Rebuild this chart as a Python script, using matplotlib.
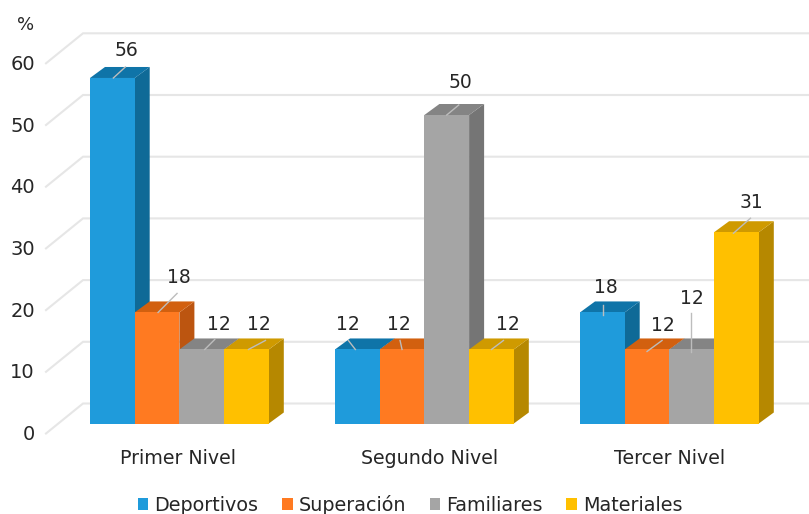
# plot.py - 3D style grouped bars drawn by hand on a 2D axes

import matplotlib
matplotlib.use("Agg")
import matplotlib.pyplot as plt
from matplotlib.patches import Patch, Polygon

categories = ["Primer Nivel", "Segundo Nivel", "Tercer Nivel"]
series_names = ["Deportivos", "Superación", "Familiares", "Materiales"]
deportivos = [56, 12, 18]
superacion = [18, 12, 12]
familiares = [12, 50, 12]
materiales = [12, 12, 31]
y_ticks = [0, 10, 20, 30, 40, 50, 60]

series_values = [deportivos, superacion, familiares, materiales]
front_colors = ["#1F9BDB", "#FF7A21", "#A5A5A5", "#FFC000"]
top_colors = ["#0F74A8", "#D2600F", "#848484", "#CF9A00"]
side_colors = ["#0F6A97", "#BC5510", "#757575", "#B68800"]

# scale of the axes, in pixels per unit
PX_X = 245.0
PX_Y = 6.17
BAR_W = 44.7 / PX_X
DEPTH_X = 15 / PX_X
DEPTH_Y = 11 / PX_Y
WALL_Y = 20 / PX_Y

# label offset from the front top centre of each bar, in pixels
# rows are series, columns are categories
label_offsets = [
    [(14, 27), (-9, 24.5), (4, 25)],
    [(22, 35), (-3, 24.5), (16, 23.5)],
    [(17, 25), (14, 33), (0, 51)],
    [(12, 25), (16, 24.5), (15, 30)],
]
leader_starts = [
    [(1, 0), (-2, 0), (1, -3)],
    [(1, 0), (0, 0), (0, -2)],
    [(3, 0), (0, 0), (-1, -3)],
    [(2, 0), (0, 0), (-3, -1)],
]
leader_ends = [
    [(13, 11), (-9, 9), (1, 7)],
    [(20, 19), (-2, 9), (15, 9)],
    [(13, 10), (12, 10), (-1, 36)],
    [(19, 9), (12, 9), (14, 14)],
]
category_shift = [-1, 5, 0]

fig = plt.figure(figsize=(8.09, 5.14), dpi=100, facecolor="white")
ax = fig.add_axes([0, 0, 1, 1])
ax.set_xlim(-179.4 / PX_X, (809 - 179.4) / PX_X)
ax.set_ylim(-(514 - 423.5) / PX_Y, 423.5 / PX_Y)
ax.axis("off")

# wall gridlines with the short diagonal on the left
wall_left = (83 - 179.4) / PX_X
wall_right = ax.get_xlim()[1]
diag_left = (46 - 179.4) / PX_X
for tick in y_ticks:
    ax.plot(
        [diag_left, wall_left, wall_right],
        [tick + WALL_Y - 30 / PX_Y, tick + WALL_Y, tick + WALL_Y],
        color="#E6E6E6",
        linewidth=1.5,
        solid_joinstyle="miter",
        zorder=1,
    )
    ax.annotate(
        str(tick),
        (diag_left, tick + WALL_Y - 30 / PX_Y),
        xytext=(-11, -1),
        textcoords="offset pixels",
        ha="right",
        va="center",
        fontsize=14,
        color="#262626",
    )

ax.text(wall_left - 57 / PX_X, 398 / PX_Y, "%", ha="center", va="center", fontsize=13, color="#262626")

# bars, left to right so that later ones cover earlier ones
zorder = 2
for cat_idx in range(len(categories)):
    for ser_idx, values in enumerate(series_values):
        value = values[cat_idx]
        left = cat_idx + (ser_idx - 2) * BAR_W
        right = left + BAR_W
        side = Polygon(
            [(right, 0), (right + DEPTH_X, DEPTH_Y), (right + DEPTH_X, value + DEPTH_Y), (right, value)],
            facecolor=side_colors[ser_idx],
            edgecolor="none",
            zorder=zorder,
        )
        top = Polygon(
            [(left, value), (left + DEPTH_X, value + DEPTH_Y), (right + DEPTH_X, value + DEPTH_Y), (right, value)],
            facecolor=top_colors[ser_idx],
            edgecolor="none",
            zorder=zorder,
        )
        ax.add_patch(side)
        ax.add_patch(top)
        ax.bar(left, value, BAR_W, align="edge", color=front_colors[ser_idx], zorder=zorder)
        zorder += 1

# data labels and leader lines go over all the bars
for ser_idx, values in enumerate(series_values):
    for cat_idx, value in enumerate(values):
        centre = cat_idx + (ser_idx - 1.5) * BAR_W
        sx, sy = leader_starts[ser_idx][cat_idx]
        ex, ey = leader_ends[ser_idx][cat_idx]
        ax.plot(
            [centre + sx / PX_X, centre + ex / PX_X],
            [value + sy / PX_Y, value + ey / PX_Y],
            color="#BDBDBD",
            linewidth=1,
            zorder=50,
        )
        ax.annotate(
            str(value),
            (centre, value),
            xytext=label_offsets[ser_idx][cat_idx],
            textcoords="offset pixels",
            ha="center",
            va="center",
            fontsize=13.5,
            color="#262626",
            zorder=51,
        )

for cat_idx, name in enumerate(categories):
    ax.text(
        cat_idx + category_shift[cat_idx] / PX_X,
        -35.5 / PX_Y,
        name,
        ha="center",
        va="center",
        fontsize=13.7,
        color="#262626",
    )

handles = [Patch(facecolor=c, edgecolor="none") for c in front_colors]
fig.legend(
    handles,
    series_names,
    loc="center",
    bbox_to_anchor=(410 / 809, 1 - 505 / 514),
    ncols=4,
    frameon=False,
    fontsize=13.8,
    labelcolor="#262626",
    handlelength=0.55,
    handleheight=0.55,
    handletextpad=0.3,
    columnspacing=1.25,
    borderpad=0,
)

plt.savefig("out.png", dpi=100)
plt.close()
